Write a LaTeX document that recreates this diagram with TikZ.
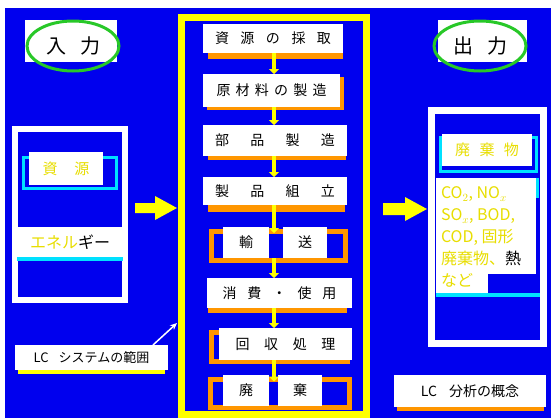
\documentclass[tikz,border=0pt]{standalone}
\usepackage{fontspec}
\newfontfamily\jp{Noto Sans CJK JP}
\usetikzlibrary{arrows.meta,shapes.geometric}
\definecolor{bg}{RGB}{0,0,238}
\definecolor{yel}{RGB}{255,255,0}
\definecolor{org}{RGB}{255,150,0}
\definecolor{cyn}{RGB}{0,225,255}
\definecolor{grn}{RGB}{40,200,40}
\definecolor{ytext}{RGB}{232,222,0}
\begin{document}
\begin{tikzpicture}[x=1pt,y=-1pt,
  every node/.style={inner sep=0pt, outer sep=0pt},
  wbox/.style={fill=white, font=\jp\fontsize{14}{16}\selectfont, text=black},
  oframe/.style={draw=org, line width=5pt},
  flow/.style={draw=yel, line width=4pt, -{Triangle[width=10pt,length=5pt]}},
  title/.style={draw=grn, line width=3pt, ellipse, minimum width=92pt, minimum height=50pt, font=\jp\fontsize{20}{20}\selectfont},
  ytxt/.style={text=ytext}
]
\path[use as bounding box, fill=white] (0,0) rectangle (551,418);
\fill[bg] (5,8) rectangle (551,418);

% ---- titles
\node[fill=white, minimum width=92pt, minimum height=42pt] (inbg) at (71,41) {};
\node[title] (intitle) at (73,46) {入\hspace{14pt}力};
\node[fill=white, minimum width=89pt, minimum height=42pt] (outbg) at (482.5,41) {};
\node[title] (outtitle) at (480,46) {出\hspace{14pt}力};

% ---- left panel
\node[draw=white, line width=6pt, minimum width=110pt, minimum height=171pt] (inpanel) at (70,214.5) {};
\node[draw=cyn, line width=3pt, minimum width=93pt, minimum height=31pt] (rescyan) at (69.5,172.5) {};
\node[wbox, ytxt, minimum width=74pt, minimum height=33pt, font=\jp\fontsize{15}{15}\selectfont] (res) at (66,168.5) {資\hspace{17pt}源};
\fill[cyn] (17,256) rectangle (123,261);
\node[wbox, minimum width=106pt, minimum height=30pt, font=\jp\fontsize{16}{16}\selectfont] (energy) at (70,242) {\raisebox{-3pt}{\textcolor{ytext}{エネル}ギー}};

% ---- left arrow
\fill[yel] (135,203) -- (155,203) -- (155,196) -- (177,208) -- (155,220) -- (155,213) -- (135,213) -- cycle;

% ---- system frame
\node[draw=yel, line width=7pt, minimum width=185pt, minimum height=397pt] (sys) at (273.5,215.5) {};
\coordinate (ax) at (274,0);

% shadows
\fill[org] (208,29) rectangle (343,59);
\fill[org] (207,77) rectangle (344,110);
\fill[org] (208,128) rectangle (346,160);
\fill[org] (208,182) rectangle (345,212);
\fill[org] (208,284) rectangle (347,313);

\node[wbox, minimum width=140pt, minimum height=29pt] (r1) at (273,38.5) {\makebox[116pt][s]{資\hfill 源\hfill の\hfill 採\hfill 取}};
\node[wbox, minimum width=137pt, minimum height=33pt] (r2) at (271.5,90.5) {\makebox[110pt][s]{原\hfill 材\hfill 料\hfill の\hfill 製\hfill 造}};
\node[wbox, minimum width=144pt, minimum height=31pt] (r3) at (275,140.5) {\makebox[120pt][s]{部\hfill 品\hfill 製\hfill 造}};
\node[wbox, minimum width=144pt, minimum height=28pt] (r4) at (275,191) {\makebox[120pt][s]{製\hfill 品\hfill 組\hfill 立}};
\node[oframe, minimum width=134pt, minimum height=29pt] (f5) at (278,245.5) {};
\node[wbox, minimum width=46pt, minimum height=31pt] (r5a) at (246,242.5) {輸};
\node[wbox, minimum width=44pt, minimum height=31pt] (r5b) at (305,242.5) {送};
\node[wbox, minimum width=145pt, minimum height=30pt] (r6) at (279.5,293) {\makebox[114pt][s]{消\hfill 費\hfill ・\hfill 使\hfill 用}};
\node[oframe, minimum width=136pt, minimum height=29pt] (f7) at (279,346.5) {};
\node[wbox, minimum width=133pt, minimum height=32pt] (r7) at (285.5,344) {\makebox[100pt][s]{回\hfill 収\hfill 処\hfill 理}};
\node[oframe, minimum width=139pt, minimum height=28pt] (f8) at (280,393.5) {};
\node[wbox, minimum width=46pt, minimum height=31pt] (r8a) at (246,390.5) {廃};
\node[wbox, minimum width=44pt, minimum height=31pt] (r8b) at (300,390.5) {棄};

% flow arrows
\draw[flow] (r1.south -| ax) -- (r2.north -| ax);
\draw[flow] (r2.south -| ax) -- (r3.north -| ax);
\draw[flow] (r3.south -| ax) -- (r4.north -| ax);
\draw[flow] (r4.south -| ax) -- ([yshift=-2pt]f5.north -| ax);
\draw[flow] ([yshift=2pt]f5.south -| ax) -- (r6.north -| ax);
\draw[flow] (r6.south -| ax) -- (r7.north -| ax);
\draw[flow] (r7.south -| ax) -- ([yshift=-2pt]f8.north -| ax);

% ---- right arrow
\fill[yel] (383,203) -- (405,203) -- (405,197) -- (427,209) -- (405,221) -- (405,215) -- (383,215) -- cycle;

% ---- right panel
\node[draw=white, line width=7pt, minimum width=112pt, minimum height=233pt] (outpanel) at (487,226.5) {};
\node[draw=cyn, line width=3pt, minimum width=96pt, minimum height=34pt] (wastecyan) at (488,154) {};
\node[wbox, ytxt, minimum width=90pt, minimum height=32pt, font=\jp\fontsize{15}{15}\selectfont] (waste) at (487,150) {\raisebox{-3pt}{\makebox[64pt][s]{廃\hfill 棄\hfill 物}}};
\fill[cyn] (536,178) rectangle (539,198);
\fill[cyn] (436,293) rectangle (540,297);
\fill[white] (436,178) rectangle (536,293);
\fill[bg] (488,274) rectangle (536,293);
\node[anchor=north west, align=left, text=ytext, font=\jp\fontsize{16}{22}\selectfont] (emis) at (441,187)
  {CO$_2$, NO$_x$\\SO$_x$, BOD,\\COD, 固形\\廃棄物、\textcolor{black}{熱}\\など};

% ---- bottom labels
\fill[yel] (18,350) rectangle (165,374);
\node[wbox, minimum width=153pt, minimum height=25pt, font=\jp\fontsize{13}{13}\selectfont] (lcsys) at (91.5,357.5) {LC\hspace{10pt}システムの範囲};
\coordinate (wa) at (177,323);
\draw[white, line width=1.5pt, -{Stealth[length=7pt,width=6pt]}] ([xshift=-15pt]lcsys.north east) -- (wa);

\fill[org] (397,380) rectangle (544,411);
\node[wbox, minimum width=152pt, minimum height=32pt, font=\jp\fontsize{14}{14}\selectfont] (lcana) at (470,391) {LC\hspace{12pt}分析の概念};
\end{tikzpicture}
\end{document}
